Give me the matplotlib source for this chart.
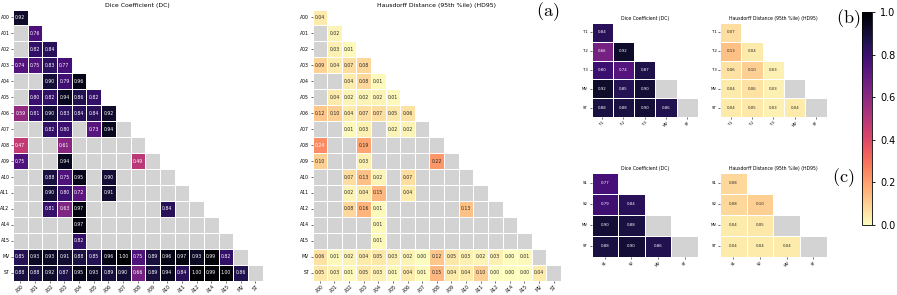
import numpy as np
import matplotlib
matplotlib.use("Agg")
import matplotlib.pyplot as plt
import seaborn as sns
from matplotlib.colors import ListedColormap, Normalize
from matplotlib.colorbar import ColorbarBase

# --- data (None = pair not available) ---
labels_a = ["A00", "A01", "A02", "A03", "A04", "A05", "A06", "A07", "A08",
            "A09", "A10", "A11", "A12", "A14", "A15", "MV", "ST"]
n = None
dice_a = [
    [0.92],
    [n, 0.76],
    [n, 0.82, 0.84],
    [0.74, 0.75, 0.83, 0.77],
    [n, n, 0.90, 0.79, 0.96],
    [n, 0.80, 0.82, 0.94, 0.86, 0.82],
    [0.59, 0.81, 0.90, 0.83, 0.84, 0.84, 0.92],
    [n, n, 0.82, 0.80, n, 0.73, 0.94, n],
    [0.47, n, n, 0.61, n, n, n, n, n],
    [0.75, n, n, 0.94, n, n, n, n, 0.49, n],
    [n, n, 0.88, 0.75, 0.95, n, 0.90, n, n, n, n],
    [n, n, 0.90, 0.80, 0.72, n, 0.91, n, n, n, n, n],
    [n, n, 0.81, 0.63, 0.97, n, n, n, n, n, 0.84, n, n],
    [n, n, n, n, 0.97, n, n, n, n, n, n, n, n, n],
    [n, n, n, n, 0.82, n, n, n, n, n, n, n, n, n, n],
    [0.85, 0.93, 0.93, 0.91, 0.88, 0.85, 0.96, 1.00, 0.75, 0.89, 0.96, 0.97, 0.93, 0.99, 0.82, n],
    [0.88, 0.88, 0.92, 0.87, 0.95, 0.93, 0.89, 0.90, 0.66, 0.89, 0.94, 0.84, 1.00, 0.99, 1.00, 0.86, n],
]
hd95_a = [
    [0.04],
    [n, 0.02],
    [n, 0.03, 0.01],
    [0.09, 0.04, 0.07, 0.08],
    [n, n, 0.04, 0.08, 0.01],
    [n, 0.04, 0.02, 0.02, 0.02, 0.01],
    [0.12, 0.10, 0.04, 0.07, 0.07, 0.05, 0.06],
    [n, n, 0.01, 0.03, n, 0.02, 0.02, n],
    [0.24, n, n, 0.19, n, n, n, n, n],
    [0.10, n, n, 0.03, n, n, n, n, 0.22, n],
    [n, n, 0.07, 0.13, 0.02, n, 0.07, n, n, n, n],
    [n, n, 0.02, 0.04, 0.15, n, 0.04, n, n, n, n, n],
    [n, n, 0.08, 0.16, 0.01, n, n, n, n, n, 0.13, n, n],
    [n, n, n, n, 0.01, n, n, n, n, n, n, n, n, n],
    [n, n, n, n, 0.01, n, n, n, n, n, n, n, n, n, n],
    [0.06, 0.01, 0.02, 0.04, 0.05, 0.03, 0.02, 0.00, 0.12, 0.05, 0.03, 0.02, 0.03, 0.00, 0.01, n],
    [0.05, 0.03, 0.01, 0.05, 0.03, 0.01, 0.04, 0.01, 0.15, 0.04, 0.04, 0.10, 0.00, 0.00, 0.00, 0.04, n],
]

labels_b = ["T1", "T2", "T3", "MV", "ST"]
dice_b = [
    [0.84],
    [0.66, 0.92],
    [0.80, 0.74, 0.87],
    [0.92, 0.85, 0.90, n],
    [0.88, 0.88, 0.90, 0.86, n],
]
hd95_b = [
    [0.07],
    [0.13, 0.04],
    [0.06, 0.10, 0.03],
    [0.04, 0.06, 0.03, n],
    [0.04, 0.05, 0.03, 0.04, n],
]

labels_c = ["S1", "S2", "MV", "ST"]
dice_c = [
    [0.77],
    [0.79, 0.84],
    [0.90, 0.88, n],
    [0.88, 0.90, 0.86, n],
]
hd95_c = [
    [0.08],
    [0.08, 0.10],
    [0.04, 0.05, n],
    [0.04, 0.04, 0.04, n],
]

W, H = 897, 295
fig = plt.figure(figsize=(W / 100, H / 100), dpi=100)
plt.rcParams['mathtext.fontset'] = 'cm'


def px_axes(x0, y0, x1, y1):
    return fig.add_axes([x0 / W, 1 - y1 / H, (x1 - x0) / W, (y1 - y0) / H])


def to_matrix(rows):
    k = len(rows)
    m = np.full((k, k), np.nan)
    for i, r in enumerate(rows):
        for j, v in enumerate(r):
            if v is not None:
                m[i, j] = v
    return m


def tri_heatmap(ax, rows, labels, title, fs_annot, fs_tick, fs_title):
    m = to_matrix(rows)
    k = len(labels)
    upper = np.triu(np.ones((k, k), bool), k=1)
    missing = np.isnan(m) & ~upper
    # gray cells for missing pairs
    sns.heatmap(np.where(missing, 1.0, np.nan), ax=ax, mask=~missing,
                cmap=ListedColormap(['lightgray']), cbar=False,
                linewidths=0.5, linecolor='white')
    sns.heatmap(m, ax=ax, mask=np.isnan(m) | upper, cmap='magma_r', vmin=0, vmax=1,
                annot=True, fmt='.2f', annot_kws={'size': fs_annot}, cbar=False,
                linewidths=0.5, linecolor='white',
                xticklabels=labels, yticklabels=labels)
    ax.set_title(title, fontsize=fs_title, pad=2)
    ax.tick_params(axis='both', labelsize=fs_tick, length=1.5, width=0.4, pad=1)
    plt.setp(ax.get_xticklabels(), rotation=45, ha='center')
    plt.setp(ax.get_yticklabels(), rotation=0)


# panel (a)
ax = px_axes(13, 9.5, 262.7, 280.7)
tri_heatmap(ax, dice_a, labels_a, "Dice Coefficient (DC)", 3.3, 3.3, 4.4)
ax = px_axes(312.5, 9.5, 561, 280.7)
tri_heatmap(ax, hd95_a, labels_a, "Hausdorff Distance (95th %ile) (HD95)", 3.3, 3.3, 4.4)

# panel (b)
ax = px_axes(591.5, 23, 698, 117)
tri_heatmap(ax, dice_b, labels_b, "Dice Coefficient (DC)", 2.8, 2.8, 3.3)
ax = px_axes(720, 23, 826.7, 117)
tri_heatmap(ax, hd95_b, labels_b, "Hausdorff Distance (95th %ile) (HD95)", 2.8, 2.8, 3.3)

# panel (c)
ax = px_axes(591.5, 172.7, 698, 256.7)
tri_heatmap(ax, dice_c, labels_c, "Dice Coefficient (DC)", 2.8, 2.8, 3.3)
ax = px_axes(720, 172.7, 826.7, 256.7)
tri_heatmap(ax, hd95_c, labels_c, "Hausdorff Distance (95th %ile) (HD95)", 2.8, 2.8, 3.3)

# panel labels
fig.text(548 / W, 1 - 12 / H, r'$\mathrm{(a)}$', fontsize=13, ha='center', va='center')
fig.text(848 / W, 1 - 19 / H, r'$\mathrm{(b)}$', fontsize=13, ha='center', va='center')
fig.text(843 / W, 1 - 178 / H, r'$\mathrm{(c)}$', fontsize=13, ha='center', va='center')

# shared colorbar
cax = px_axes(862, 12, 872, 225)
cb = ColorbarBase(cax, cmap=plt.get_cmap('magma_r'), norm=Normalize(0, 1))
cb.set_ticks([0.0, 0.2, 0.4, 0.6, 0.8, 1.0])
cb.ax.tick_params(labelsize=7, length=2.5, width=0.6)
cb.outline.set_linewidth(0.6)

fig.savefig("out.png", dpi=100)
